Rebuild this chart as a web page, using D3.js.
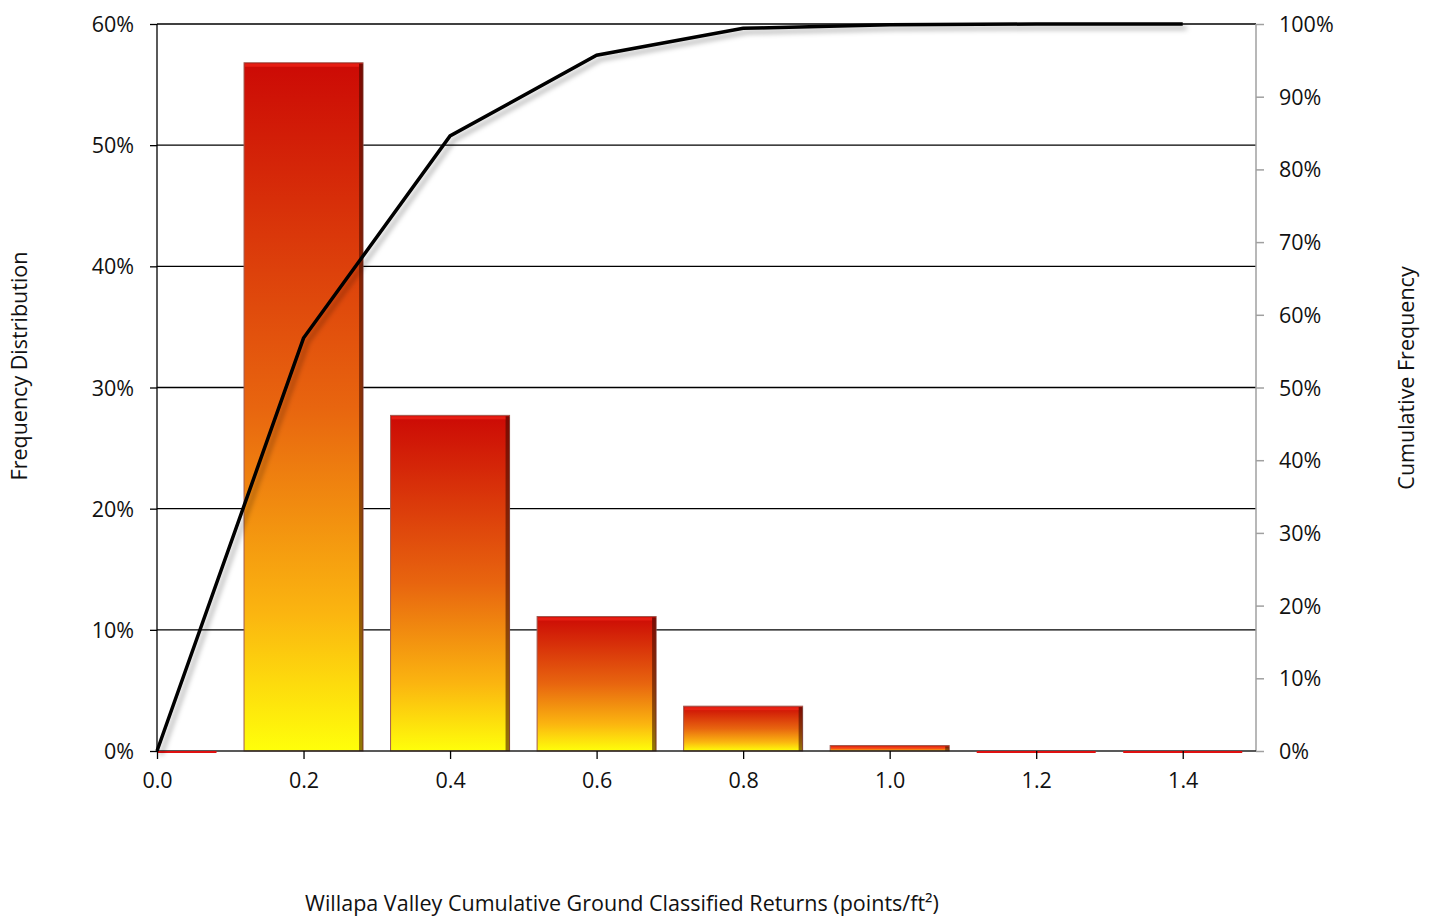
<!DOCTYPE html>
<html><head><meta charset="utf-8">
<script src="https://cdn.jsdelivr.net/npm/d3@7"></script>
<style>body{margin:0;background:#fff;} text{font-family:"Open Sans",sans-serif;fill:#111;}</style>
</head><body><svg id="c" width="1437" height="920"></svg>
<script>
const categories = ["0.0","0.2","0.4","0.6","0.8","1.0","1.2","1.4"];
const frequency = [0.0, 56.8, 27.7, 11.1, 3.7, 0.45, 0.0, 0.0];
const cumulative = [0.0, 56.8, 84.6, 95.7, 99.4, 99.9, 100, 100];
const leftTicks = [0,10,20,30,40,50,60];
const rightTicks = [0,10,20,30,40,50,60,70,80,90,100];

const svg = d3.select("#c");
const L=157, R=1256, T=24, B=751;
const x = d3.scaleLinear().domain([0, 7.5]).range([L, R]);
const yL = d3.scaleLinear().domain([0,60]).range([B,T]);
const yR = d3.scaleLinear().domain([0,100]).range([B,T]);
const bw = 119;
const FS = 21.5;

const defs = svg.append("defs");
const g = defs.append("linearGradient").attr("id","bg").attr("x1",0).attr("y1",0).attr("x2",0).attr("y2",1);
g.append("stop").attr("offset","0%").attr("stop-color","#cc0a05");
g.append("stop").attr("offset","50%").attr("stop-color","#e8650f");
g.append("stop").attr("offset","80%").attr("stop-color","#fbb510");
g.append("stop").attr("offset","100%").attr("stop-color","#ffff0a");
defs.append("clipPath").attr("id","plot").append("rect").attr("x",L).attr("y",0).attr("width",R-L).attr("height",B+3);
const f = defs.append("filter").attr("id","sh").attr("x","-10%").attr("y","-10%").attr("width","130%").attr("height","130%");
f.append("feDropShadow").attr("dx",4).attr("dy",4).attr("stdDeviation",2.5).attr("flood-color","#000").attr("flood-opacity",0.3);

// gridlines
svg.append("g").selectAll("line").data(leftTicks.filter(d=>d>0)).join("line")
  .attr("x1",L).attr("x2",R).attr("y1",d=>yL(d)).attr("y2",d=>yL(d))
  .attr("stroke","#000").attr("stroke-width",1.3);

// bars
const bars = svg.append("g").attr("clip-path","url(#plot)");
frequency.forEach((v,i)=>{
  const cx = x(i), top = yL(v), h = B-top;
  if (v > 0.3) {
    bars.append("rect").attr("x",cx-bw/2).attr("y",B-h).attr("width",bw).attr("height",h)
      .attr("fill","url(#bg)").attr("stroke","#a05a50").attr("stroke-width",1);
    bars.append("rect").attr("x",cx+bw/2-4).attr("y",B-h+1).attr("width",4).attr("height",h-1)
      .attr("fill","#3a0a00").attr("opacity",0.55);
    bars.append("rect").attr("x",cx-bw/2+1).attr("y",B-h+1).attr("width",bw-5).attr("height",Math.min(3,h-1))
      .attr("fill","#ff3020").attr("opacity",0.5);
  }
});

// axes lines
svg.append("line").attr("x1",L).attr("x2",L).attr("y1",T).attr("y2",B).attr("stroke","#000").attr("stroke-width",1.3);
svg.append("line").attr("x1",R).attr("x2",R).attr("y1",T).attr("y2",B).attr("stroke","#a0a0a0").attr("stroke-width",1.5);
svg.append("line").attr("x1",L).attr("x2",R).attr("y1",B).attr("y2",B).attr("stroke","#222").attr("stroke-width",1.3);

// zero-height bars drawn as thin red lines on the baseline
const zb = svg.append("g").attr("clip-path","url(#plot)");
frequency.forEach((v,i)=>{
  if (v <= 0.3) {
    const cx = x(i);
    zb.append("rect").attr("x",cx-bw/2).attr("y",B).attr("width",bw).attr("height",2).attr("fill","#e01010");
  }
});

// left axis
const la = svg.append("g").attr("transform",`translate(${L},0)`)
  .call(d3.axisLeft(yL).tickValues(leftTicks).tickFormat(d=>d+"%").tickSize(7).tickPadding(16));
la.select(".domain").remove();
la.selectAll("line").attr("stroke","#000").attr("stroke-width",1.3);
la.selectAll("text").attr("font-size",FS).attr("dy","0.35em");

// right axis
const ra = svg.append("g").attr("transform",`translate(${R},0)`)
  .call(d3.axisRight(yR).tickValues(rightTicks).tickFormat(d=>d+"%").tickSize(8).tickPadding(15));
ra.select(".domain").remove();
ra.selectAll("line").attr("stroke","#a0a0a0").attr("stroke-width",1.5);
ra.selectAll("text").attr("font-size",FS).attr("dy","0.35em");

// x axis
const xa = svg.append("g").attr("transform",`translate(0,${B})`)
  .call(d3.axisBottom(x).tickValues(d3.range(categories.length)).tickFormat(i=>categories[i]).tickSize(8).tickPadding(14));
xa.select(".domain").remove();
xa.selectAll("line").attr("stroke","#000").attr("stroke-width",1.3);
xa.selectAll("text").attr("font-size",FS);

// cumulative line
const line = d3.line().x((d,i)=>x(i)).y(d=>yR(d));
svg.append("path").datum(cumulative).attr("d",line).attr("fill","none")
  .attr("stroke","#000").attr("stroke-width",3.5).attr("stroke-linejoin","miter").attr("filter","url(#sh)");

// titles
svg.append("text").attr("transform","translate(27,366) rotate(-90)").attr("text-anchor","middle").attr("font-size",FS).text("Frequency Distribution");
svg.append("text").attr("transform","translate(1414,378) rotate(-90)").attr("text-anchor","middle").attr("font-size",FS).text("Cumulative Frequency");
svg.append("text").attr("x",622).attr("y",911).attr("text-anchor","middle").attr("font-size",FS).text("Willapa Valley Cumulative Ground Classified Returns (points/ft²)");
</script></body></html>
